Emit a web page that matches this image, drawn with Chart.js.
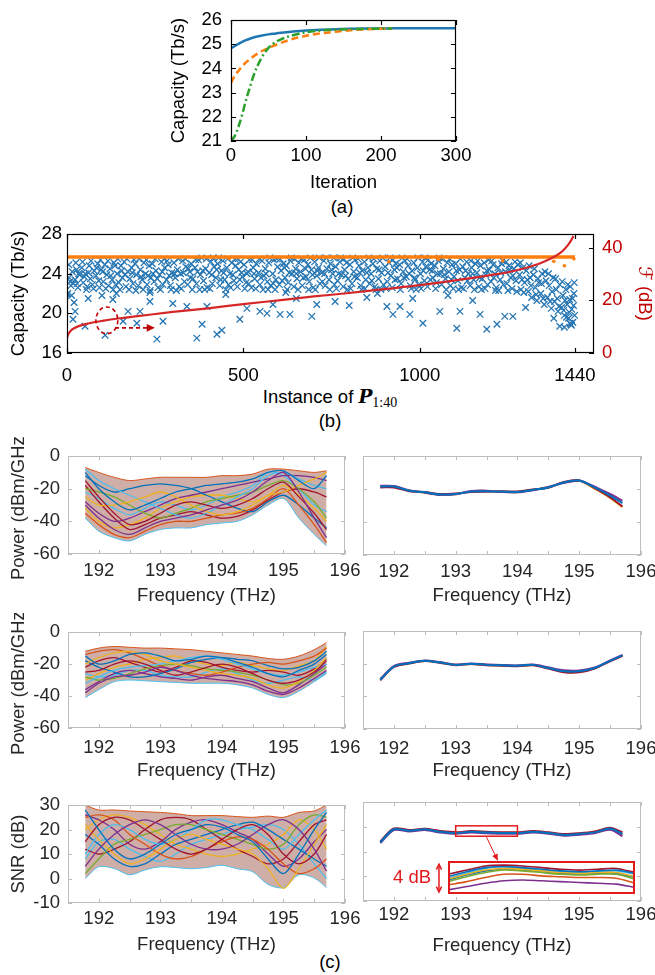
<!DOCTYPE html>
<html>
<head>
<meta charset="utf-8">
<script src="https://cdn.jsdelivr.net/npm/chart.js@4.4.1/dist/chart.umd.min.js"></script>
<style>
  body { margin: 0; background: #fff; width: 655px; height: 975px; position: relative; overflow: hidden;
         font-family: 'Liberation Sans', Arial, sans-serif; }
  canvas { position: absolute; }
  .lbl { position: absolute; font-size: 18.5px; color: #000; transform: translate(-50%, -50%); white-space: nowrap; }
</style>
</head>
<body>
<div class="lbl" style="left:342px;top:207px">(a)</div>
<div class="lbl" style="left:330px;top:397px">Instance of <i style="font-family:'DejaVu Serif';font-weight:bold">P</i><span style="font-family:'Liberation Serif';font-size:14px;position:relative;top:4px">1:40</span></div>
<div class="lbl" style="left:330px;top:421px">(b)</div>
<div class="lbl" style="left:330px;top:962px">(c)</div>

<script>
// ---------- (a) convergence ----------
const iterA = [0, 5, 10, 15, 20, 25, 30, 40, 50, 60, 70, 80, 100, 120, 140, 160, 180, 200, 215, 250, 300];
const capBlueA = [24.83, 24.93, 25.02, 25.1, 25.17, 25.23, 25.28, 25.35, 25.41, 25.45, 25.49, 25.52, 25.57, 25.6, 25.62, 25.64, 25.65, 25.65, 25.66, 25.66, 25.66];
const capOrangeA = [23.4, 23.7, 23.9, 24.1, 24.25, 24.38, 24.5, 24.7, 24.85, 24.98, 25.1, 25.2, 25.35, 25.45, 25.52, 25.58, 25.62, 25.64, 25.65, null, null];
const capGreenA = [21.0, 21.2, 21.6, 22.1, 22.7, 23.2, 23.7, 24.4, 24.85, 25.1, 25.25, 25.35, 25.5, 25.57, 25.61, 25.63, 25.64, 25.65, 25.65, null, null];
const ticksAx = [0, 100, 200, 300];
const ticksAy = [21, 22, 23, 24, 25, 26];

// ---------- (b) capacity per instance ----------
const ticksBx = [0, 500, 1000, 1440];
const ticksBy = [16, 20, 24, 28];
const ticksBy2 = [0, 20, 40];
const instF = [0, 3, 10, 20, 35, 60, 100, 150, 200, 300, 400, 500, 600, 700, 800, 900, 1000, 1100, 1200, 1260, 1300, 1340, 1370, 1390, 1405, 1420, 1430, 1436];
const fDb = [5.8, 7, 8.4, 9.4, 10.3, 11.2, 12.2, 13.2, 14, 15.6, 17, 18.6, 20, 21.5, 22.8, 24.3, 25.8, 27.6, 29.6, 31, 32.3, 34, 35.8, 37.3, 38.8, 41, 43, 44.5];
const optX = [0, 1440];
const optCap = [25.7, 25.7];
const optOutliers = [[460, 25.55], [700, 25.55], [912, 25.2], [1053, 25.45], [1235, 25.3], [1380, 25.25], [1410, 24.8], [1437, 25.5]];
const randCap = [
  [2,22.0],[6,23.6],[11,22.8],[15,24.2],[18,23.0],[23,23.4],[27,24.4],[31,22.6],[36,23.9],
  [42,24.6],[46,23.1],[52,24.0],[57,22.7],[63,24.8],[66,23.5],[72,22.9],[77,24.3],
  [82,23.8],[87,25.0],[92,22.6],[97,24.4],[103,23.2],[107,24.9],[113,23.9],[118,22.8],
  [122,24.5],[128,23.4],[133,25.1],[138,22.9],[142,24.0],[147,23.1],[153,24.8],[157,23.6],
  [162,25.2],[167,22.7],[173,24.2],[178,23.5],[183,24.6],[187,23.0],[193,25.0],[197,23.9],
  [202,22.8],[208,24.4],[213,23.4],[218,25.1],[223,24.0],[227,22.9],[233,24.8],[238,23.6],
  [242,25.0],[247,23.2],[252,24.3],[258,22.6],[263,23.9],[268,25.2],[272,22.9],[277,24.6],
  [282,23.4],[287,24.9],[293,22.8],[297,24.1],[303,25.1],[307,23.6],[313,24.4],[318,22.7],
  [322,24.0],[328,25.3],[333,23.2],[337,24.7],[342,22.9],[348,24.2],[352,25.0],[357,23.5],
  [363,24.6],[367,23.0],[373,25.4],[378,23.9],[382,25.6],[387,23.3],[393,24.5],[397,22.6],
  [403,24.1],[408,25.2],[412,23.0],[417,24.7],[422,23.6],[427,25.0],[433,22.8],[438,24.3],
  [442,25.3],[447,23.4],[453,24.6],[458,22.9],[462,24.0],[467,25.1],[473,23.3],[478,24.8],
  [483,22.7],[487,24.4],[492,25.2],[497,23.7],[502,24.9],[508,23.1],[513,24.2],[517,25.4],
  [523,22.6],[528,24.6],[532,23.5],[537,25.0],[543,24.1],[547,22.9],[553,25.3],[558,23.8],
  [562,24.5],[568,23.2],[572,25.1],[577,22.8],[583,24.0],[587,25.4],[592,23.4],[597,24.7],
  [602,22.9],[607,24.3],[613,25.0],[618,23.6],[622,24.8],[627,23.1],[633,25.3],[638,24.0],
  [643,22.7],[648,24.5],[652,23.5],[657,25.1],[662,24.2],[667,22.8],[673,25.4],[678,23.7],
  [683,24.9],[687,23.2],[693,24.4],[698,22.6],[702,25.2],[708,23.8],[713,24.6],[717,23.0],
  [722,24.1],[728,25.3],[732,22.8],[737,24.5],[743,23.4],[747,25.0],[753,24.0],[758,22.9],
  [762,24.7],[767,23.3],[773,25.2],[778,23.9],[783,22.7],[787,24.4],[792,25.1],[797,23.5],
  [802,24.9],[808,23.0],[813,24.2],[817,25.4],[823,23.6],[828,24.8],[832,22.8],[837,24.3],
  [843,25.2],[847,23.4],[853,24.6],[858,23.0],[862,24.0],[867,25.0],[873,22.7],[878,24.5],
  [883,23.5],[887,25.3],[892,24.1],[897,22.9],[902,24.7],[908,23.2],[913,25.1],[918,23.8],
  [922,22.6],[928,24.4],[932,25.0],[937,23.5],[943,24.9],[947,23.0],[953,24.2],[958,25.3],
  [962,23.7],[967,24.8],[973,22.8],[978,24.3],[983,25.1],[987,23.4],[993,24.6],[997,22.9],
  [1002,24.0],[1008,25.2],[1013,23.3],[1017,24.7],[1022,22.7],[1028,24.4],[1032,25.0],[1037,23.6],
  [1043,24.8],[1047,23.1],[1053,25.3],[1058,24.0],[1062,22.9],[1067,24.5],[1073,23.5],[1078,25.1],
  [1083,24.2],[1087,22.8],[1092,24.9],[1097,23.7],[1102,25.0],[1108,23.3],[1113,24.4],[1118,22.6],
  [1122,24.7],[1128,23.6],[1133,25.2],[1138,24.0],[1143,22.8],[1147,24.6],[1153,23.4],[1158,25.0],
  [1162,24.1],[1168,22.7],[1172,24.8],[1177,23.5],[1183,25.1],[1187,23.9],[1192,22.9],[1197,24.4],
  [1202,23.2],[1208,24.9],[1213,24.0],[1217,22.6],[1222,24.6],[1228,23.4],[1232,25.0],[1237,22.9],
  [1243,24.2],[1247,23.0],[1253,24.8],[1258,23.6],[1262,22.5],[1267,24.5],[1273,23.3],[1278,24.9],
  [1283,23.9],[1287,22.4],[1292,24.6],[1297,23.1],[1302,24.3],[1308,22.2],[1313,23.6],[1317,21.6],
  [1322,23.9],[1328,22.6],[1332,21.3],[1337,23.1],[1343,22.0],[1347,24.0],[1353,20.9],[1358,23.3],
  [1362,21.6],[1367,22.8],[1373,20.5],[1378,23.6],[1382,21.2],[1387,22.4],[1392,20.2],[1397,22.9],
  [1402,20.6],[1406,21.8],[1410,19.8],[1414,22.4],[1418,20.9],[1422,19.5],[1425,21.4],[1428,18.9],
  [1431,20.4],[1434,19.1],[1437,22.0],[1439,19.8],
  // second pass through the dense band
  [5,24.9],[9,23.2],[13,21.8],[25,25.1],[29,23.0],[33,24.0],
  [44,25.2],[49,23.7],[55,22.4],[61,24.1],[68,25.3],[75,22.5],
  [84,24.6],[90,23.3],[95,25.4],[101,24.2],[110,22.5],[116,25.3],
  [124,23.8],[131,22.4],[136,24.8],[144,25.5],[150,22.4],[155,24.3],
  [164,23.9],[170,25.5],[176,22.4],[185,24.1],[190,25.4],[195,22.3],
  [204,25.5],[210,23.7],[216,22.4],[225,25.4],[230,23.8],[236,22.3],
  [244,24.0],[250,25.5],[256,23.5],[265,22.4],[270,24.2],[275,25.5],
  [284,25.3],[290,23.8],[295,22.4],[305,24.0],[310,22.3],[316,25.5],
  [324,22.5],[330,24.1],[336,25.5],[344,24.5],[350,23.6],[355,22.4],
  [365,25.4],[370,24.2],[376,22.4],[385,24.3],[390,22.4],[395,25.5],
  [405,22.5],[410,23.9],[415,25.6],[424,24.4],[430,25.6],[436,23.4],
  [444,24.1],[450,22.4],[456,25.5],[464,22.6],[470,23.9],[476,25.5],
  [485,25.5],[490,23.4],[495,24.1],[504,22.5],[510,24.0],[515,23.0],
  [525,25.4],[530,24.0],[535,22.5],[545,25.5],[550,23.6],[556,22.4],
  [564,24.0],[570,22.4],[575,25.6],[585,23.0],[590,22.4],[595,25.5],
  [604,25.5],[610,23.3],[616,24.6],[624,22.4],[630,24.1],[636,25.6],
  [645,25.5],[650,24.0],[655,22.4],[664,25.5],[670,23.6],[676,24.5],
  [685,22.4],[690,25.6],[696,23.9],[704,22.4],[710,24.3],[715,25.6],
  [724,23.2],[730,24.0],[735,25.6],[745,22.4],[750,24.4],[756,25.6],
  [764,22.5],[770,24.0],[776,25.6],[785,25.5],[790,23.8],[795,22.4],
  [804,22.5],[810,25.6],[815,23.7],[825,25.5],[830,24.1],[835,22.4],
  [845,22.5],[850,24.1],[856,25.6],[864,23.3],[870,25.5],[876,22.4],
  [885,24.4],[890,22.4],[895,25.6],[904,22.5],[910,24.1],[916,25.6],
  [924,25.4],[930,23.4],[935,24.6],[945,22.4],[950,25.6],[955,23.6],
  [964,25.5],[970,24.0],[976,22.5],[985,23.6],[990,22.4],[995,25.6],
  [1004,22.5],[1010,24.3],[1015,25.6],[1024,25.4],[1030,23.4],[1035,24.3],
  [1045,22.5],[1050,24.0],[1055,25.6],[1064,25.5],[1070,23.9],[1075,22.4],
  [1085,25.5],[1090,23.4],[1095,22.5],[1104,24.3],[1110,22.4],[1115,25.5],
  [1124,22.5],[1130,24.3],[1135,23.3],[1145,25.3],[1150,24.0],[1155,22.4],
  [1164,25.3],[1170,23.6],[1175,22.4],[1185,22.5],[1190,24.3],[1195,25.4],
  [1204,25.3],[1210,23.6],[1215,22.3],[1224,22.3],[1230,24.1],[1235,25.3],
  [1245,25.2],[1250,22.3],[1255,24.4],[1264,23.8],[1270,25.2],[1275,22.2],
  [1285,25.1],[1290,23.4],[1295,22.1],[1305,23.4],[1310,24.8],[1315,22.8],
  [1325,24.5],[1330,21.9],[1335,23.5],[1345,23.0],[1350,21.5],[1355,24.2],
  [1365,24.0],[1370,21.2],[1375,22.2],[1385,23.5],[1390,21.5],[1395,20.7],
  [1404,23.2],[1408,20.3],[1412,21.3],[1416,19.6],[1420,22.9],[1424,20.1],
  [1427,22.7],[1430,18.8],[1433,21.5],[1436,20.8],[1438,23.1],
  // sparse low instances
  [0,21.9],[20,21.1],[23,20.2],[17,19.4],[51,18.7],[60,21.5],[99,21.8],[108,17.8],[130,21.4],
  [140,22.0],[159,19.2],[173,20.2],[198,19.0],[207,20.2],[235,22.1],[235,21.2],[255,17.4],
  [272,19.2],[300,21.0],[340,20.7],[368,17.5],[383,18.9],[397,20.7],[425,17.9],[439,18.3],
  [450,21.9],[490,19.4],[510,20.5],[547,20.2],[567,20.0],[584,20.9],[604,19.9],[620,22.1],
  [632,19.9],[650,21.5],[694,19.7],[708,20.9],[760,21.2],[800,20.8],[850,21.6],[880,22.0],
  [907,20.7],[924,19.9],[944,20.7],[972,19.9],[980,21.5],[1009,19.0],[1057,20.2],[1080,21.8],
  [1105,18.5],[1114,20.2],[1150,21.3],[1171,19.9],[1190,18.4],[1219,18.9],[1241,19.7],[1264,19.7],
  [1300,20.6],[1380,19.5],[1397,18.7],[1410,18.6],[1426,19.0]
];
// annotation in (b): ellipse [x, y, rx, ry] and dashed arrow [x0, x1, y]
const circB = [113, 19.3, 31, 1.35];
const arrowB = [136, 249, 18.54];

// ---------- (c) spectra ----------
const freqC = [191.78, 192, 192.25, 192.5, 192.75, 193, 193.25, 193.5, 193.75, 194, 194.25, 194.5, 194.75, 195, 195.25, 195.5, 195.7];
const ticksCx = [192, 192.5, 193, 193.5, 194, 194.5, 195, 195.5, 196];
const ticksPow = [-60, -40, -20, 0];
const ticksSnr = [-10, 0, 10, 20, 30];

// power before optimisation: envelope and sample traces
const powRandEnv = [
  [-7, -10, -13, -15, -14, -13, -13, -13, -13, -12, -12, -11, -8, -8, -9, -10, -9],
  [-38, -46, -50, -52, -48, -45, -44, -44, -42, -41, -40, -36, -30, -26, -38, -48, -55]
];
const powRand = [
  [-10, -20, -28, -33, -30, -26, -22, -20, -18, -17, -16, -14, -10, -9, -15, -20, -12],
  [-30, -38, -45, -48, -44, -40, -38, -36, -33, -30, -27, -22, -15, -10, -22, -38, -50],
  [-15, -25, -35, -42, -40, -35, -30, -28, -30, -32, -30, -26, -20, -16, -25, -35, -45],
  [-25, -30, -30, -28, -25, -22, -25, -30, -34, -36, -34, -30, -24, -22, -18, -14, -10],
  [-8, -15, -20, -24, -28, -32, -36, -38, -35, -30, -25, -20, -12, -10, -14, -18, -20],
  [-35, -42, -48, -50, -46, -42, -40, -40, -38, -36, -35, -32, -26, -20, -30, -42, -53],
  [-20, -22, -25, -30, -35, -38, -35, -32, -28, -26, -24, -22, -18, -15, -20, -28, -38],
  [-12, -18, -22, -20, -18, -17, -18, -20, -24, -28, -32, -34, -28, -24, -30, -38, -44],
  [-28, -35, -40, -38, -34, -30, -26, -24, -22, -20, -18, -16, -14, -12, -12, -13, -15],
  [-18, -28, -38, -45, -42, -38, -36, -34, -36, -38, -37, -33, -27, -22, -20, -22, -25],
  [-32, -40, -44, -42, -38, -32, -28, -25, -24, -24, -26, -28, -24, -18, -24, -32, -40],
  [-22, -26, -32, -36, -32, -28, -30, -33, -30, -25, -22, -18, -10, -12, -20, -30, -34]
];
// power after optimisation
const powOpt = [
  [-18.5, -18.5, -21, -22, -23.3, -23, -21.5, -21.3, -21.5, -21.8, -20.5, -19, -16, -14.8, -19, -24, -28.5],
  [-18, -18.2, -20.7, -22.2, -23.6, -23.2, -21.2, -21, -21.8, -22, -20.7, -18.7, -16.3, -15, -18.5, -23, -27],
  [-19, -19, -21.3, -21.8, -23, -22.7, -21.8, -21.6, -21.3, -21.5, -20.2, -19.2, -15.7, -14.6, -19.5, -25, -30.5],
  [-18.7, -18.3, -21.1, -22.3, -23.4, -23.2, -21.4, -21.1, -21.6, -21.9, -20.4, -18.9, -16.1, -14.9, -19.8, -25.4, -31]
];

// received power: envelope and sample traces
const rxRandEnv = [
  [-12, -10, -9, -9.5, -10, -10, -10.5, -11, -12, -13, -14, -15, -16.5, -17, -15, -11, -6.6],
  [-41, -36, -31, -30, -30.5, -31, -31.5, -32, -32, -32, -33, -35, -39, -41, -37, -31, -26]
];
const rxRand = [
  [-15, -20, -18, -14, -13, -15, -18, -17, -15, -16, -19, -22, -26, -28, -24, -20, -14],
  [-38, -32, -28, -27, -25, -22, -24, -27, -29, -30, -31, -33, -37, -39, -35, -29, -24],
  [-25, -24, -20, -18, -20, -24, -27, -25, -22, -20, -22, -26, -30, -32, -30, -25, -18],
  [-20, -16, -13, -12, -14, -18, -20, -22, -24, -26, -27, -29, -33, -35, -31, -24, -16],
  [-32, -28, -24, -22, -21, -20, -18, -16, -15, -17, -20, -23, -26, -27, -25, -22, -20],
  [-14, -12, -11, -13, -17, -21, -24, -26, -27, -25, -22, -20, -19, -20, -18, -15, -10],
  [-28, -30, -29, -26, -23, -21, -20, -21, -23, -24, -25, -27, -30, -33, -32, -27, -22],
  [-18, -22, -25, -28, -28, -26, -23, -19, -17, -16, -17, -18, -21, -23, -22, -18, -12],
  [-36, -31, -26, -24, -26, -28, -29, -30, -28, -27, -29, -31, -35, -38, -33, -26, -20],
  [-22, -18, -16, -19, -22, -25, -22, -18, -19, -22, -24, -25, -24, -25, -27, -23, -17],
  [-30, -26, -22, -20, -17, -16, -15, -18, -20, -21, -19, -21, -23, -24, -21, -18, -9],
  [-26, -28, -27, -24, -24, -27, -28, -28, -25, -23, -26, -30, -32, -30, -28, -30, -25]
];
const rxOpt = [
  [-29.8, -21.7, -19.7, -18.2, -19.3, -20.7, -20, -20.7, -21, -21.3, -20.7, -22.6, -24.6, -24.6, -22.6, -18.2, -14.9],
  [-29.3, -21.4, -19.4, -18.0, -19.0, -20.5, -19.8, -20.4, -20.8, -21.0, -20.5, -22.2, -24.0, -24.1, -22.3, -18.0, -14.6],
  [-30.2, -22.0, -19.9, -18.4, -19.5, -20.9, -20.2, -20.9, -21.2, -21.6, -21.0, -23.0, -25.2, -25.3, -22.9, -18.5, -15.2],
  [-29.6, -21.8, -19.6, -18.3, -19.2, -20.6, -20.1, -20.6, -21.1, -21.4, -20.8, -22.8, -24.9, -25.0, -22.8, -18.3, -15.0]
];

// SNR: envelope and sample traces
const snrRandEnv = [
  [30, 28, 28, 27.6, 27.3, 27, 26.5, 25.7, 25.7, 25.7, 25.3, 25, 25.5, 25, 27, 27.6, 30],
  [0, 4.8, 4.1, 1.5, 3.5, 4.8, 4.5, 4, 4.5, 5.4, 4, 2.8, -2.4, -3.7, 1.5, 0.2, -3.7]
];
const snrRand = [
  [28, 20, 12, 8, 10, 14, 18, 20, 22, 21, 18, 15, 8, 2, 10, 20, 27],
  [5, 12, 18, 22, 24, 22, 18, 14, 12, 12, 14, 18, 22, 24, 20, 12, 3],
  [15, 22, 25, 24, 20, 16, 12, 10, 12, 16, 20, 22, 18, 10, 6, 10, 18],
  [22, 16, 10, 6, 8, 12, 16, 18, 16, 14, 12, 10, 4, -4, 4, 14, 22],
  [10, 18, 22, 20, 16, 14, 16, 20, 24, 24, 22, 20, 16, 12, 18, 24, 28],
  [25, 26, 24, 18, 14, 10, 8, 9, 12, 15, 17, 16, 12, 6, 2, 4, 8],
  [2, 8, 14, 16, 18, 20, 22, 22, 20, 18, 16, 14, 12, 14, 22, 26, 25],
  [18, 14, 8, 5, 6, 10, 14, 16, 18, 20, 22, 23, 20, 16, 12, 8, 5],
  [26, 24, 20, 14, 12, 15, 20, 23, 24, 22, 19, 16, 10, 5, 8, 15, 20],
  [12, 10, 12, 15, 20, 24, 25, 24, 20, 16, 12, 9, 6, 8, 15, 22, 24],
  [20, 24, 26, 25, 22, 18, 14, 12, 10, 9, 10, 12, 14, 18, 24, 20, 12],
  [8, 15, 16, 12, 9, 7, 10, 14, 16, 18, 20, 21, 22, 20, 14, 6, 0]
];
const snrOpt = [
  [13.75, 19, 18.4, 19, 18, 17.5, 18, 17.75, 17.5, 17.5, 18, 17.5, 16.75, 17.1, 17.75, 19.3, 17.1],
  [13.4, 18.7, 18.1, 18.7, 17.7, 17.2, 17.7, 17.4, 17.2, 17.2, 17.7, 17.2, 16.4, 16.8, 17.4, 18.8, 16.2],
  [14.1, 19.3, 18.7, 19.2, 18.3, 17.8, 18.3, 18.0, 17.8, 17.8, 18.3, 17.8, 17.1, 17.4, 18.1, 19.6, 17.8],
  [13.9, 19.1, 18.5, 19.1, 18.1, 17.6, 18.1, 17.9, 17.6, 17.6, 18.1, 17.6, 16.9, 17.2, 17.9, 19.4, 16.7]
];
// zoomed inset of the optimised SNR between 193 and 194 THz
const freqInset = [193.0, 193.1, 193.2, 193.3, 193.4, 193.5, 193.6, 193.7, 193.8, 193.9, 194.0];
const snrInset = [
  [17.6, 18.2, 18.7, 18.8, 18.7, 18.5, 18.3, 18.2, 18.3, 18.4, 18.0],
  [17.3, 17.9, 18.4, 18.6, 18.5, 18.3, 18.1, 18.0, 18.1, 18.1, 17.6],
  [17.0, 17.6, 18.1, 18.4, 18.3, 18.1, 17.9, 17.8, 17.9, 17.9, 17.3],
  [17.9, 18.4, 18.9, 19.0, 18.9, 18.7, 18.5, 18.4, 18.5, 18.6, 18.1],
  [16.6, 17.0, 17.5, 17.9, 17.9, 17.7, 17.6, 17.5, 17.5, 17.4, 16.8],
  [16.0, 16.4, 16.8, 17.1, 17.2, 17.1, 17.0, 16.9, 16.8, 16.7, 16.3],
  [17.4, 18.0, 18.6, 18.9, 18.6, 18.4, 18.2, 18.1, 18.2, 18.3, 17.9],
  [17.2, 17.8, 18.3, 18.5, 18.4, 18.2, 18.0, 17.9, 18.0, 18.0, 17.5]
];
// selection box [x0, x1, y0, y1], pointer arrow [x0, y0, x1, y1], 4 dB marker [x, y0, y1]
const selBox = [193.0, 194.0, 16.2, 20.4];
const selArrow = [193.5, 15.8, 193.68, 6.4];
const dbMark = [192.73, 4.9, -6.4];

const PAL = ['#0072BD', '#D95319', '#EDB120', '#7E2F8E', '#77AC30', '#4DBEEE', '#A2142F'];
const RED = '#c00000';

Chart.defaults.font.family = "'Liberation Sans', 'DejaVu Sans', sans-serif";
Chart.defaults.font.size = 18.5;
Chart.defaults.color = '#000';
Chart.defaults.animation = false;
Chart.defaults.responsive = false;
Chart.defaults.plugins.legend.display = false;
Chart.defaults.plugins.tooltip.enabled = false;

const xy = (xs, ys) => xs.map((x, i) => ({x: x, y: ys[i]}));

function makeCanvas(left, top, w, h) {
  const c = document.createElement('canvas');
  c.width = w; c.height = h;
  c.style.left = left + 'px'; c.style.top = top + 'px';
  c.style.width = w + 'px'; c.style.height = h + 'px';
  document.body.appendChild(c);
  return c;
}

function axis(pos, min, max, ticks, size, pad, color, fmt, title) {
  const horiz = pos === 'bottom';
  return {
    type: 'linear', position: pos, min: min, max: max,
    grid: {display: false, drawTicks: false},
    border: {display: false},
    afterBuildTicks: s => { s.ticks = ticks.map(v => ({value: v})); },
    afterFit: s => { if (horiz) s.height = size; else s.width = size; },
    ticks: {padding: pad, autoSkip: false, maxRotation: 0, color: color, callback: fmt || (v => String(v))},
    title: title ? {display: true, text: title, color: color, padding: title.pad || {top: 4, bottom: 4}} : {display: false}
  };
}

// box with inward tick marks, as in MATLAB
const boxTicks = {
  id: 'boxTicks',
  afterDatasetsDraw(chart, args, o) {
    const {ctx, chartArea: a, scales} = chart;
    const L = o.len;
    ctx.save();
    ctx.strokeStyle = o.color;
    ctx.lineWidth = o.lw;
    ctx.beginPath();
    scales.x.ticks.forEach(t => {
      const p = Math.round(scales.x.getPixelForValue(t.value)) + 0.5;
      ctx.moveTo(p, a.bottom); ctx.lineTo(p, a.bottom - L);
      ctx.moveTo(p, a.top); ctx.lineTo(p, a.top + L);
    });
    const side = (id, x0, dir) => scales[id].ticks.forEach(t => {
      const p = Math.round(scales[id].getPixelForValue(t.value)) + 0.5;
      ctx.moveTo(x0, p); ctx.lineTo(x0 + dir * L, p);
    });
    side(o.left, a.left, 1);
    side(o.right, a.right, -1);
    ctx.stroke();
    ctx.strokeRect(Math.round(a.left) + 0.5, Math.round(a.top) + 0.5, Math.round(a.width) - 1, Math.round(a.height) - 1);
    ctx.restore();
  }
};

function arrowHead(ctx, x1, y1, x2, y2, size, open) {
  const ang = Math.atan2(y2 - y1, x2 - x1);
  ctx.beginPath();
  ctx.moveTo(x2 - size * Math.cos(ang - 0.45), y2 - size * Math.sin(ang - 0.45));
  ctx.lineTo(x2, y2);
  ctx.lineTo(x2 - size * Math.cos(ang + 0.45), y2 - size * Math.sin(ang + 0.45));
  if (open) { ctx.stroke(); } else { ctx.closePath(); ctx.fill(); }
}

// ---------- chart (a) ----------
new Chart(makeCanvas(164, 0, 320, 198), {
  type: 'line',
  data: {
    datasets: [
      {data: xy(iterA, capBlueA), borderColor: '#1f77b4', borderWidth: 2.5, pointRadius: 0, cubicInterpolationMode: 'monotone', order: 3},
      {data: xy(iterA, capOrangeA), borderColor: '#ff7f0e', borderWidth: 2.5, borderDash: [7, 4], pointRadius: 0, cubicInterpolationMode: 'monotone', order: 2},
      {data: xy(iterA, capGreenA), borderColor: '#2ca02c', borderWidth: 2.5, borderDash: [8, 3, 2, 3], pointRadius: 0, cubicInterpolationMode: 'monotone', order: 1}
    ]
  },
  options: {
    layout: {padding: {top: 14, right: 28, left: 0, bottom: 0}},
    scales: {
      x: axis('bottom', 0, 300, ticksAx, 57, 4, '#000', null, 'Iteration'),
      y: axis('left', 21, 26, ticksAy, 67, 9, '#000', null, 'Capacity (Tb/s)')
    },
    plugins: {boxTicks: {color: '#000', lw: 1.2, len: 5, left: 'y', right: 'y'}}
  },
  plugins: [boxTicks]
});

// ---------- chart (b) ----------
const annoB = {
  id: 'annoB',
  afterDatasetsDraw(chart) {
    const {ctx} = chart;
    const sx = chart.scales.x, sy = chart.scales.y;
    const cx = sx.getPixelForValue(circB[0]), cy = sy.getPixelForValue(circB[1]);
    const rx = Math.abs(sx.getPixelForValue(circB[0] + circB[2]) - cx);
    const ry = Math.abs(sy.getPixelForValue(circB[1] + circB[3]) - cy);
    ctx.save();
    ctx.strokeStyle = RED; ctx.fillStyle = RED; ctx.lineWidth = 1.6;
    ctx.setLineDash([4, 3]);
    ctx.beginPath(); ctx.ellipse(cx, cy, rx, ry, 0, 0, Math.PI * 2); ctx.stroke();
    const x0 = sx.getPixelForValue(arrowB[0]), x1 = sx.getPixelForValue(arrowB[1]), ya = sy.getPixelForValue(arrowB[2]);
    ctx.beginPath(); ctx.moveTo(x0, ya); ctx.lineTo(x1 - 6, ya); ctx.stroke();
    ctx.setLineDash([]);
    arrowHead(ctx, x0, ya, x1, ya, 9, false);
    ctx.restore();
  }
};
new Chart(makeCanvas(4, 215, 651, 175), {
  type: 'line',
  data: {
    datasets: [
      {data: xy(instF, fDb), yAxisID: 'y2', borderColor: '#d62728', borderWidth: 2.2, pointRadius: 0, cubicInterpolationMode: 'monotone'},
      {data: xy(optX, optCap), yAxisID: 'y', borderColor: '#ff7f0e', borderWidth: 3.5, pointRadius: 0},
      {data: optOutliers.map(p => ({x: p[0], y: p[1]})), yAxisID: 'y', showLine: false, pointRadius: 1.8, borderWidth: 0, backgroundColor: '#ff7f0e'},
      {data: randCap.map(p => ({x: p[0], y: p[1]})), yAxisID: 'y', showLine: false, pointStyle: 'crossRot', pointRadius: 4.6, borderWidth: 1.3, borderColor: '#2676b3', backgroundColor: '#2676b3'}
    ]
  },
  options: {
    layout: {padding: {top: 15, right: 0, left: 0, bottom: 0}},
    scales: {
      x: axis('bottom', 0, 1494, ticksBx, 37, 12, '#000', null, null),
      y: axis('left', 16, 28, ticksBy, 63, 5, '#000', null, 'Capacity (Tb/s)'),
      y2: axis('right', 0, 45.2, ticksBy2, 61, 8, RED, null, Object.assign(new String('ℱ (dB)'), {pad: {top: 0, bottom: 0}}))
    },
    plugins: {boxTicks: {color: '#000', lw: 1.2, len: 5, left: 'y', right: 'y2'}}
  },
  plugins: [boxTicks, annoB]
});

// ---------- charts (c) ----------
const fmtC = v => (Number.isInteger(v) ? String(v) : '');
const GREY = '#bdbdbd';
const TXT = '#262626';

function traces(lines, env, width) {
  const sets = lines.map((ys, i) => ({
    data: xy(freqC, ys), borderColor: PAL[(i * 3) % PAL.length], borderWidth: width, pointRadius: 0, tension: 0.3
  }));
  if (env) {
    sets.push({data: xy(freqC, env[0]), borderColor: PAL[1], borderWidth: 1, pointRadius: 0, tension: 0.3, fill: false});
    sets.push({data: xy(freqC, env[1]), borderColor: PAL[5], borderWidth: 1, pointRadius: 0, tension: 0.3,
               fill: '-1', backgroundColor: 'rgba(165,108,92,0.55)'});
  }
  return sets;
}

function panelC(left, top, w, h, yW, xH, rightPad, ymin, ymax, yticks, tickPad, lines, env, width, ytitle, plugins) {
  return new Chart(makeCanvas(left, top, w, h), {
    type: 'line',
    data: {datasets: traces(lines, env, width)},
    options: {
      layout: {padding: {top: 14, right: rightPad, left: 0, bottom: 0}},
      scales: {
        x: axis('bottom', 191.5, 196, ticksCx, xH, tickPad, TXT, fmtC, 'Frequency (THz)'),
        y: axis('left', ymin, ymax, yticks, yW, 8, TXT, ytitle ? null : (() => ''), ytitle)
      },
      plugins: {boxTicks: {color: GREY, lw: 1, len: 4, left: 'y', right: 'y'}}
    },
    plugins: [boxTicks].concat(plugins || [])
  });
}

panelC(4, 437, 371, 174, 64, 57, 30, -60, 0, ticksPow, 6, powRand, powRandEnv, 1.3, 'Power (dBm/GHz)');
panelC(350, 437, 330, 174, 13, 56, 39, -60, 0, ticksPow, 6, powOpt, null, 2, null);
panelC(4, 613, 371, 173, 64, 58, 30, -60, 0, ticksPow, 9, rxRand, rxRandEnv, 1.3, 'Power (dBm/GHz)');
panelC(350, 612, 330, 174, 13, 57, 39, -60, 0, ticksPow, 9, rxOpt, null, 2, null);
panelC(4, 786, 371, 174, 64, 57, 30, -10, 30, ticksSnr, 5, snrRand, snrRandEnv, 1.3, 'SNR (dB)');

const annoC = {
  id: 'annoC',
  afterDatasetsDraw(chart) {
    const {ctx} = chart;
    const sx = chart.scales.x, sy = chart.scales.y;
    ctx.save();
    ctx.strokeStyle = '#e31a1c'; ctx.fillStyle = '#e31a1c'; ctx.lineWidth = 1.5;
    const bx0 = sx.getPixelForValue(selBox[0]), bx1 = sx.getPixelForValue(selBox[1]);
    const by0 = sy.getPixelForValue(selBox[2]), by1 = sy.getPixelForValue(selBox[3]);
    ctx.strokeRect(bx0, by1, bx1 - bx0, by0 - by1);
    const ax0 = sx.getPixelForValue(selArrow[0]), ay0 = sy.getPixelForValue(selArrow[1]);
    const ax1 = sx.getPixelForValue(selArrow[2]), ay1 = sy.getPixelForValue(selArrow[3]);
    ctx.lineWidth = 1;
    ctx.beginPath(); ctx.moveTo(ax0, ay0); ctx.lineTo(ax1, ay1); ctx.stroke();
    arrowHead(ctx, ax0, ay0, ax1, ay1, 7, false);
    const mx = sx.getPixelForValue(dbMark[0]), my0 = sy.getPixelForValue(dbMark[1]), my1 = sy.getPixelForValue(dbMark[2]);
    ctx.lineWidth = 1.5;
    ctx.beginPath(); ctx.moveTo(mx, my0); ctx.lineTo(mx, my1); ctx.stroke();
    arrowHead(ctx, mx, my1, mx, my0, 6, true);
    arrowHead(ctx, mx, my0, mx, my1, 6, true);
    ctx.restore();
  }
};
panelC(350, 783, 330, 178, 13, 60, 39, -10, 30, ticksSnr, 3, snrOpt, null, 2, null, [annoC]);

// inset: zoom of optimised SNR
const insetBox = {
  id: 'insetBox',
  beforeDraw(chart) {
    const {ctx, width, height} = chart;
    ctx.save(); ctx.fillStyle = '#fff'; ctx.fillRect(0, 0, width, height); ctx.restore();
  },
  afterDatasetsDraw(chart) {
    const {ctx, width, height} = chart;
    ctx.save(); ctx.strokeStyle = '#e31a1c'; ctx.lineWidth = 2;
    ctx.strokeRect(1, 1, width - 2, height - 2); ctx.restore();
  }
};
new Chart(makeCanvas(448, 861, 187, 33), {
  type: 'line',
  data: {
    datasets: snrInset.map((ys, i) => ({
      data: xy(freqInset, ys), borderColor: PAL[(i * 2) % PAL.length], borderWidth: 1.6, pointRadius: 0, tension: 0.3
    }))
  },
  options: {
    layout: {padding: 0},
    scales: {x: {type: 'linear', min: 193, max: 194, display: false}, y: {min: 15.5, max: 19.5, display: false}}
  },
  plugins: [insetBox]
});
</script>
<div class="lbl" style="left:412px;top:877px;color:#e31a1c">4 dB</div>
</body>
</html>
